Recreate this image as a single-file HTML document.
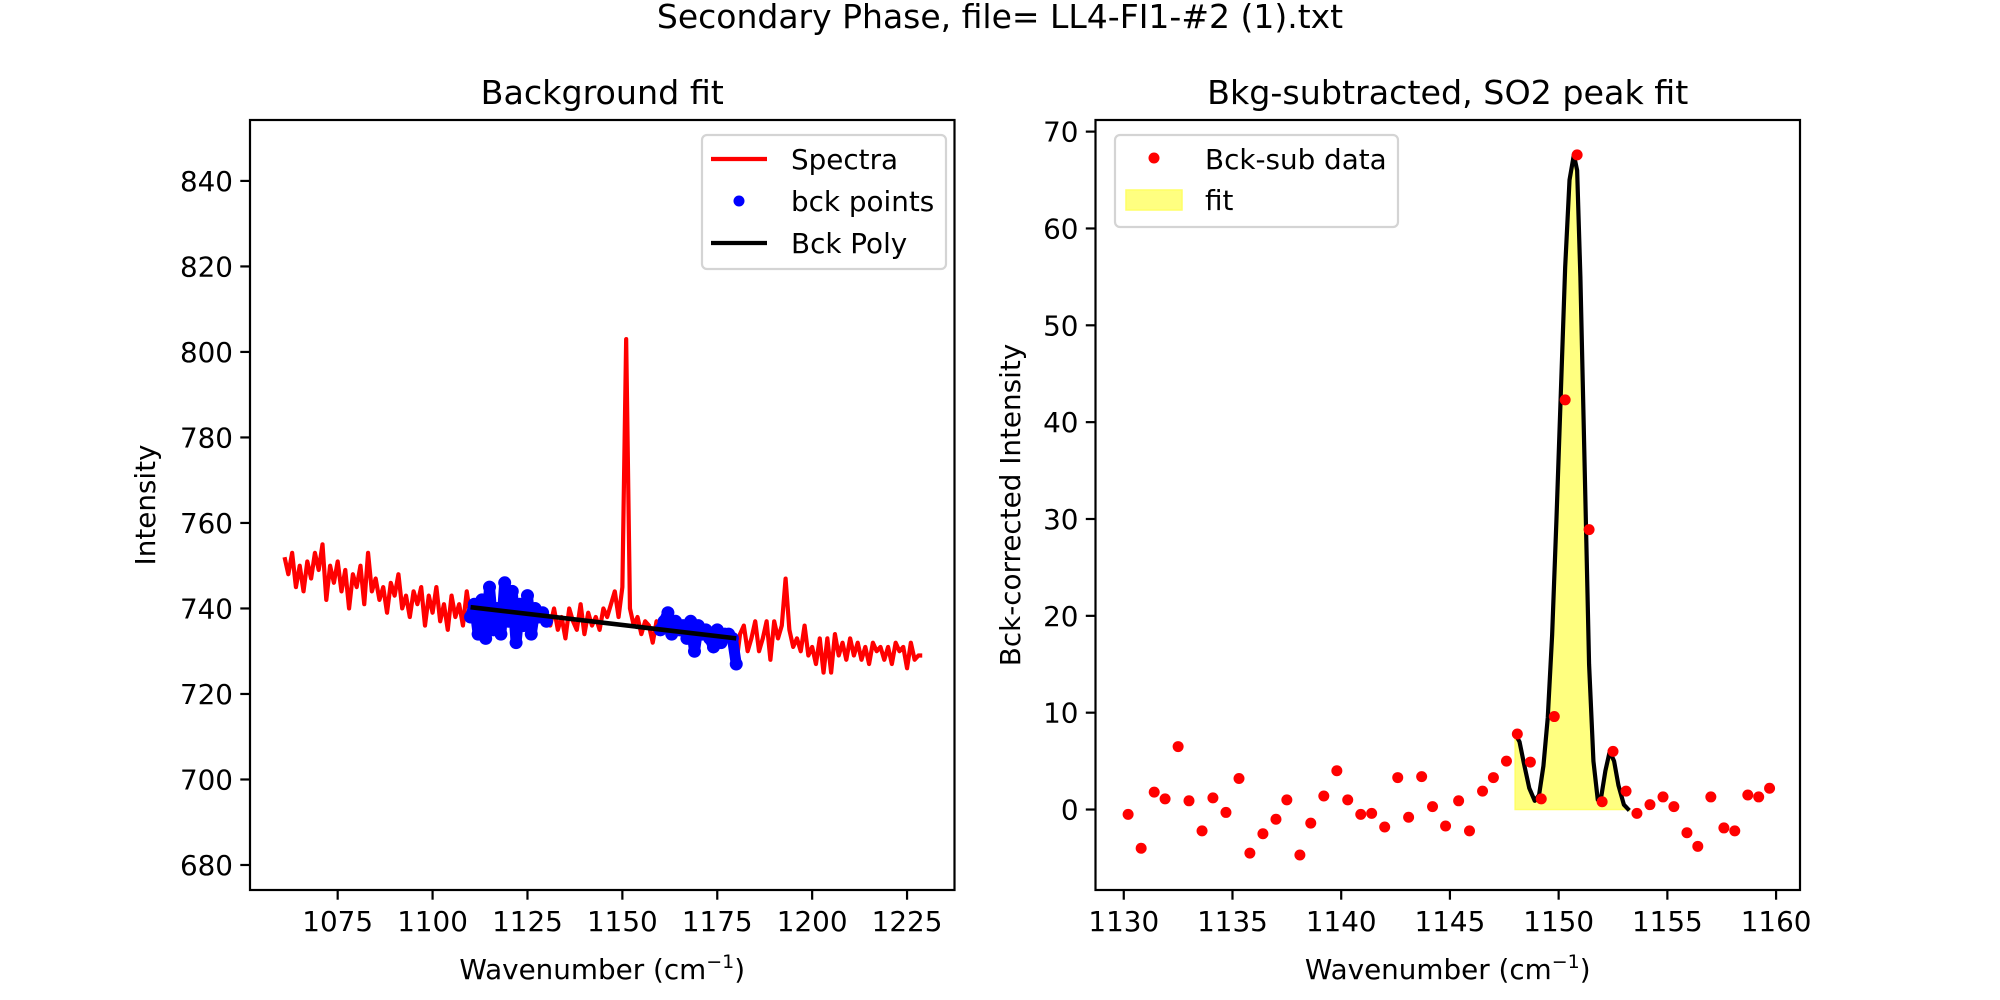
<!DOCTYPE html>
<html><head><meta charset="utf-8">
<style>
html,body{margin:0;padding:0;background:#fff;}
svg{display:block;font-family:"DejaVu Sans","Liberation Sans",sans-serif;}
</style></head>
<body>
<svg id="fig" width="2000" height="1000" viewBox="0 0 2000 1000" xmlns="http://www.w3.org/2000/svg">
<rect width="2000" height="1000" fill="#fff"/>
<text x="1000" y="28" font-size="33" text-anchor="middle">Secondary Phase, file= LL4-FI1-#2 (1).txt</text>
<defs>
<clipPath id="clipL"><rect x="250" y="120" width="704.5" height="770"/></clipPath>
<clipPath id="clipR"><rect x="1095.5" y="120" width="704.5" height="770"/></clipPath>
</defs>
<g id="left"></g>
<g id="right"></g>
</svg>
<script>
// ---- Left panel data ----
const spectraX = [1061,1062,1063,1064,1065,1066,1067,1068,1069,1070,1071,1072,1073,1074,1075,1076,1077,1078,1079,1080,1081,1082,1083,1084,1085,1086,1087,1088,1089,1090,1091,1092,1093,1094,1095,1096,1097,1098,1099,1100,1101,1102,1103,1104,1105,1106,1107,1108,1109,1110,1111,1112,1113,1114,1115,1116,1117,1118,1119,1120,1121,1122,1123,1124,1125,1126,1127,1128,1129,1130,1131,1132,1133,1134,1135,1136,1137,1138,1139,1140,1141,1142,1143,1144,1145,1146,1147,1148,1149,1150,1151,1152,1153,1154,1155,1156,1157,1158,1159,1160,1161,1162,1163,1164,1165,1166,1167,1168,1169,1170,1171,1172,1173,1174,1175,1176,1177,1178,1179,1180,1181,1182,1183,1184,1185,1186,1187,1188,1189,1190,1191,1192,1193,1194,1195,1196,1197,1198,1199,1200,1201,1202,1203,1204,1205,1206,1207,1208,1209,1210,1211,1212,1213,1214,1215,1216,1217,1218,1219,1220,1221,1222,1223,1224,1225,1226,1227,1228,1229];
const spectraY = [752,748,753,745,750,744,751,747,753,749,755,742,750,746,751,744,749,740,748,745,750,741,753,744,747,742,745,739,746,743,748,740,743,738,744,741,745,736,743,739,745,737,741,735,743,738,741,736,744,738,741,734,742,733,745,735,740,734,746,737,744,732,741,736,743,734,740,738,739,737,736,740,735,738,733,740,737,735,741,734,739,736,738,735,740,738,741,744,738,745,803,740,736,738,734,737,736,732,737,735,737,739,734,737,735,736,733,737,730,736,734,735,733,731,735,732,734,734,733,727,734,736,730,733,737,730,733,737,728,737,733,736,747,735,731,733,730,736,729,731,727,733,725,733,725,734,729,732,728,733,729,732,728,731,727,732,730,731,728,731,727,732,730,731,726,732,728,729,729];
const bckRangeStart = [1110, 1160];
const bckRangeEnd = [1130, 1180];
const polyX = [1110, 1180];
const polyY = [740.3, 733.0];
const leftYTicks = [680,700,720,740,760,780,800,820,840];
const leftXTicks = [1075,1100,1125,1150,1175,1200,1225];
// ---- Right panel data ----
const subX = [1130.2,1130.8,1131.4,1131.9,1132.5,1133.0,1133.6,1134.1,1134.7,1135.3,1135.8,1136.4,1137.0,1137.5,1138.1,1138.6,1139.2,1139.8,1140.3,1140.9,1141.4,1142.0,1142.6,1143.1,1143.7,1144.2,1144.8,1145.4,1145.9,1146.5,1147.0,1147.6,1148.1,1148.7,1149.2,1149.8,1150.3,1150.85,1151.4,1152.0,1152.5,1153.1,1153.6,1154.2,1154.8,1155.3,1155.9,1156.4,1157.0,1157.6,1158.1,1158.7,1159.2,1159.7];
const subY = [-0.5,-4.0,1.8,1.1,6.5,0.9,-2.2,1.2,-0.3,3.2,-4.5,-2.5,-1.0,1.0,-4.7,-1.4,1.4,4.0,1.0,-0.5,-0.4,-1.8,3.3,-0.8,3.4,0.3,-1.7,0.9,-2.2,1.9,3.3,5.0,7.8,4.9,1.1,9.6,42.3,67.6,28.9,0.8,6.0,1.9,-0.4,0.5,1.3,0.3,-2.4,-3.8,1.3,-1.9,-2.2,1.5,1.3,2.2];
const fitX = [1148.0,1148.2,1148.4,1148.65,1148.9,1149.1,1149.3,1149.5,1149.7,1149.9,1150.1,1150.3,1150.5,1150.7,1150.85,1151.0,1151.2,1151.4,1151.6,1151.8,1151.95,1152.15,1152.35,1152.55,1152.75,1153.0,1153.25];
const fitY = [7.8,7.0,4.8,2.2,0.9,1.5,4.5,9.5,18,30,43,56,65,67.6,66,55,35,15,5,1.0,1.2,4.0,6.0,5.0,2.5,0.5,-0.1];
const rightYTicks = [0,10,20,30,40,50,60,70];
const rightXTicks = [1130,1135,1140,1145,1150,1155,1160];

const NS = "http://www.w3.org/2000/svg";
function mk(tag, attrs, parent){const e=document.createElementNS(NS,tag);for(const k in attrs)e.setAttribute(k,attrs[k]);parent.appendChild(e);return e;}

const AX_T=120, AX_B=890;
function scale(d0,d1,r0,r1){return v=>r0+(v-d0)*(r1-r0)/(d1-d0);}

const L={x0:250,x1:954.5};
const lx=scale(1051.9,1237.5,L.x0,L.x1), ly=scale(674.15,854.25,AX_B,AX_T);
const R={x0:1095.5,x1:1800};
const rx=scale(1128.7,1161.1,R.x0,R.x1), ry=scale(-8.31,71.2,AX_B,AX_T);

function drawAxes(g,A,xs,ys,xt,yt,title,ylabel,ylabX,prefix){
  for(const t of xt){
    const x=xs(t);
    const tk=mk('line',{x1:x,x2:x,y1:AX_B,y2:AX_B+9.7,stroke:'#000','stroke-width':2.2},g);
    
    
    const tl=mk('text',{x:x,y:931,'font-size':27.8,'text-anchor':'middle'},g);
    tl.textContent=t;
    
    
  }
  for(const t of yt){
    const y=ys(t);
    const tk=mk('line',{x1:A.x0-9.7,x2:A.x0,y1:y,y2:y,stroke:'#000','stroke-width':2.2},g);
    
    
    const tl=mk('text',{x:A.x0-17,y:y+10,'font-size':27.8,'text-anchor':'end'},g);
    tl.textContent=t;
    
    
  }
  const fr=mk('rect',{x:A.x0,y:AX_T,width:A.x1-A.x0,height:AX_B-AX_T,fill:'none',stroke:'#000','stroke-width':2.2},g);
  
  
  const ti=mk('text',{x:(A.x0+A.x1)/2,y:104,'font-size':33.3,'text-anchor':'middle'},g);
  ti.textContent=title;
  
  
  const xl=mk('text',{x:(A.x0+A.x1)/2,y:979,'font-size':27.8,'text-anchor':'middle'},g);
  xl.innerHTML='Wavenumber (cm<tspan font-size="19" dy="-11">−1</tspan><tspan dy="11">)</tspan>';
  
  
  const yl=mk('text',{x:ylabX,y:(AX_T+AX_B)/2,'font-size':27.8,'text-anchor':'middle',transform:`rotate(-90 ${ylabX} ${(AX_T+AX_B)/2})`},g);
  yl.textContent=ylabel;
  
  
}

// ---- Left ----
const gL=document.getElementById('left');
const plotL=mk('g',{'clip-path':'url(#clipL)'},gL);
let d='';
spectraX.forEach((x,i)=>{d+=(i?'L':'M')+lx(x).toFixed(2)+','+ly(spectraY[i]).toFixed(2);});
const sp=mk('path',{d:d,fill:'none',stroke:'#ff0000','stroke-width':4.2,'stroke-linejoin':'round'},plotL);


let bd='';
spectraX.forEach((x,i)=>{
  let inR=false;
  for(let k=0;k<bckRangeStart.length;k++) if(x>=bckRangeStart[k]&&x<=bckRangeEnd[k]) inR=true;
  if(!inR) return;
  const c=mk('circle',{cx:lx(x),cy:ly(spectraY[i]),r:6.5,fill:'#0000ff'},plotL);
  
  
  if(i>0 && spectraX[i-1]>=x-1 && (x-1)>=bckRangeStart[x<1150?0:1]){
    const s=mk('line',{x1:lx(spectraX[i-1]),y1:ly(spectraY[i-1]),x2:lx(x),y2:ly(spectraY[i]),stroke:'#0000ff','stroke-width':11,'stroke-linecap':'round'},plotL);
    
    
  }
});
const pl=mk('line',{x1:lx(polyX[0]),y1:ly(polyY[0]),x2:lx(polyX[1]),y2:ly(polyY[1]),stroke:'#000','stroke-width':4.6},plotL);


drawAxes(gL,L,lx,ly,leftXTicks,leftYTicks,'Background fit','Intensity',155,'left');

const lg=mk('g',{},gL);


mk('rect',{x:702,y:135,width:244,height:134,rx:5,fill:'#fff','fill-opacity':0.8,stroke:'#d4d4d4','stroke-width':2.2},lg);
const lgItems=[['Spectra','line','#ff0000',159],['bck points','dot','#0000ff',201],['Bck Poly','line','#000',243]];
for(const it of lgItems){
  const e=mk('g',{},lg);
  
  
  if(it[1]==='line') mk('line',{x1:711,x2:767,y1:it[3],y2:it[3],stroke:it[2],'stroke-width':4.2},e);
  else mk('circle',{cx:739,cy:it[3],r:5.5,fill:it[2]},e);
  const t=mk('text',{x:791,y:it[3]+10,'font-size':27.8},e);
  t.textContent=it[0];
}

// ---- Right ----
const gR=document.getElementById('right');
const plotR=mk('g',{'clip-path':'url(#clipR)'},gR);
let fd='M'+rx(fitX[0]).toFixed(2)+','+ry(0).toFixed(2);
fitX.forEach((x,i)=>{fd+='L'+rx(x).toFixed(2)+','+ry(fitY[i]).toFixed(2);});
fd+='L'+rx(fitX[fitX.length-1]).toFixed(2)+','+ry(0).toFixed(2)+'Z';
const fa=mk('path',{d:fd,fill:'#ffff80',stroke:'#ffff66','stroke-width':1.5},plotR);


let ld='';
fitX.forEach((x,i)=>{ld+=(i?'L':'M')+rx(x).toFixed(2)+','+ry(fitY[i]).toFixed(2);});
const fl=mk('path',{d:ld,fill:'none',stroke:'#000','stroke-width':4.2,'stroke-linejoin':'round'},plotR);


subX.forEach((x,i)=>{
  const c=mk('circle',{cx:rx(x),cy:ry(subY[i]),r:5.5,fill:'#ff0000'},plotR);
  
  
});
drawAxes(gR,R,rx,ry,rightXTicks,rightYTicks,'Bkg-subtracted, SO2 peak fit','Bck-corrected Intensity',1020,'right');

const rg=mk('g',{},gR);


mk('rect',{x:1115,y:135,width:283,height:92,rx:5,fill:'#fff','fill-opacity':0.8,stroke:'#d4d4d4','stroke-width':2.2},rg);
const re1=mk('g',{},rg);


mk('circle',{cx:1154,cy:158,r:5.5,fill:'#ff0000'},re1);
const rt1=mk('text',{x:1205,y:169,'font-size':27.8},re1); rt1.textContent='Bck-sub data';
const re2=mk('g',{},rg);


mk('rect',{x:1126,y:190,width:56,height:20,fill:'#ffff80',stroke:'#ffff66','stroke-width':1.5},re2);
const rt2=mk('text',{x:1205,y:210,'font-size':27.8},re2); rt2.textContent='fit';
</script>
</body></html>
